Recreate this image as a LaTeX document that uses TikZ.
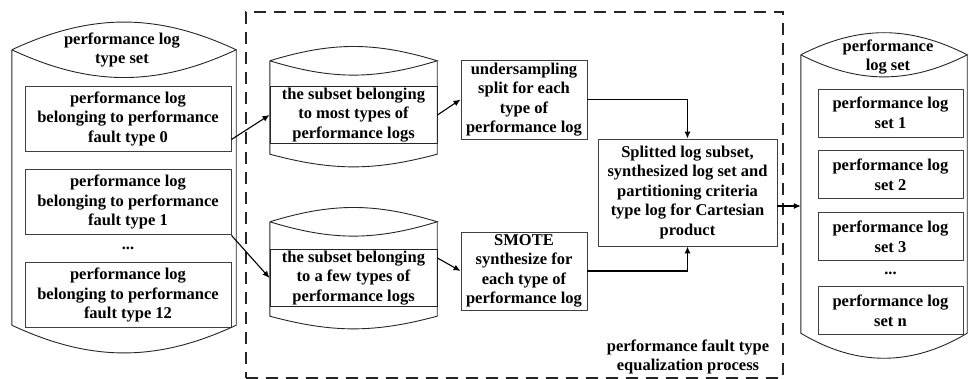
\documentclass[tikz,border=0pt]{standalone}
\usepackage{fontspec}
\setmainfont{Liberation Serif}
\usetikzlibrary{arrows.meta, calc, positioning}

\begin{document}
\begin{tikzpicture}[x=1pt, y=1pt]
\tikzset{
>={Latex[length=7pt,width=6pt]},
  every node/.style={font=\fontsize{16.5}{19.5}\selectfont\bfseries},
  drum/.style={rectangle, draw=none, inner sep=0pt},
  drumline/.style={draw=black!85, line width=0.9pt},
  logbox/.style={
    rectangle,
    draw=black!75, line width=0.9pt,
    align=center,
    inner sep=1pt},
  leftbox/.style={logbox, minimum width=206pt, minimum height=65pt},
  rightbox/.style={logbox, minimum width=145pt, minimum height=48pt},
  subset/.style={logbox, draw=black!85, minimum width=167pt, minimum height=56pt},
  stepbox/.style={logbox, minimum width=126pt, minimum height=79pt},
  frame/.style={draw=black!85, line width=1.2pt, dash pattern=on 12pt off 8pt},
  line/.style={draw, line width=1.1pt, ->},
}
\useasboundingbox (0,0) rectangle (969,379);

% equalization process frame
\node[frame, minimum width=537pt, minimum height=366pt, inner sep=0pt] (proc) at (514.5,184) {};
\node[align=center] (proclabel) at (688,22) {performance fault type\\equalization process};

% left cylinder
\node[drum, minimum width=224pt, minimum height=275pt] (lset) at (124,191.5) {};
\node[align=center] (ltitle) at (122,329) {performance log\\type set};
\node[leftbox] (t0) at (128,260.5) {performance log\\belonging to performance\\fault type 0};
\node[leftbox, below=18pt of t0] (t1) {performance log\\belonging to performance\\fault type 1};
\node[leftbox, below=27pt of t1] (t2) {performance log\\belonging to performance\\fault type 12};
\node (ldots) at ($(t1.south)!.5!(t2.north)$) {...};

% middle cylinders
\node[drum, minimum width=167pt, minimum height=93pt] (mostdrum) at (353.5,271.5) {};
\node[subset] (most) at (353.5,264) {the subset belonging\\to most types of\\performance logs};
\node[drum, minimum width=167pt, minimum height=94pt] (fewdrum) at (353.5,110) {};
\node[subset] (few) at (353.5,101) {the subset belonging\\to a few types of\\performance logs};

\node[stepbox] (under) at (524,279.5) {undersampling\\split for each\\type of\\performance log};
\node[stepbox, minimum height=78pt] (smote) at (524,108) {SMOTE\\synthesize for\\each type of\\performance log};
\node[logbox, minimum width=179pt, minimum height=107pt] (merge) at (687.5,186.5) {Splitted log subset,\\synthesized log set and\\partitioning criteria\\type log for Cartesian\\product};

% right cylinder
\node[drum, minimum width=166pt, minimum height=278pt] (rset) at (884,185) {};
\node[align=center] (rtitle) at (888,322) {performance\\log set};
\node[rightbox] (s1) at (890.5,266) {performance log\\set 1};
\node[rightbox, below=13pt of s1] (s2) {performance log\\set 2};
\node[rightbox, below=13pt of s2] (s3) {performance log\\set 3};
\node[rightbox, below=25pt of s3] (sn) {performance log\\set n};
\node (rdots) at ($(s3.south)!.5!(sn.north)$) {...};

% cylinder outlines
\foreach \d/\a/\b in {lset/25/25, mostdrum/17/15, fewdrum/17/15, rset/27/31} {
  \draw[drumline] (\d.north west) to[bend left=\a] (\d.north east) to[bend left=\a] (\d.north west);
  \draw[drumline] (\d.north west) -- (\d.south west) to[bend right=\b] (\d.south east) -- (\d.north east);
}

% connectors
\draw[line] ([yshift=-21pt]t0.east) -- (most.west);
\draw[line] (t1.south east) -- (few.west);
\draw[line] (most.east) -- (under.west);
\draw[line] ([yshift=20pt]few.east) -- (smote.west);
\draw[line] (under.east) -| (merge.north);
\draw[line] (smote.east) -| (merge.south);
\coordinate (out) at ([yshift=-13.5pt]merge.east);
\draw[line] (out) -- (out -| rset.west);

\end{tikzpicture}
\end{document}
